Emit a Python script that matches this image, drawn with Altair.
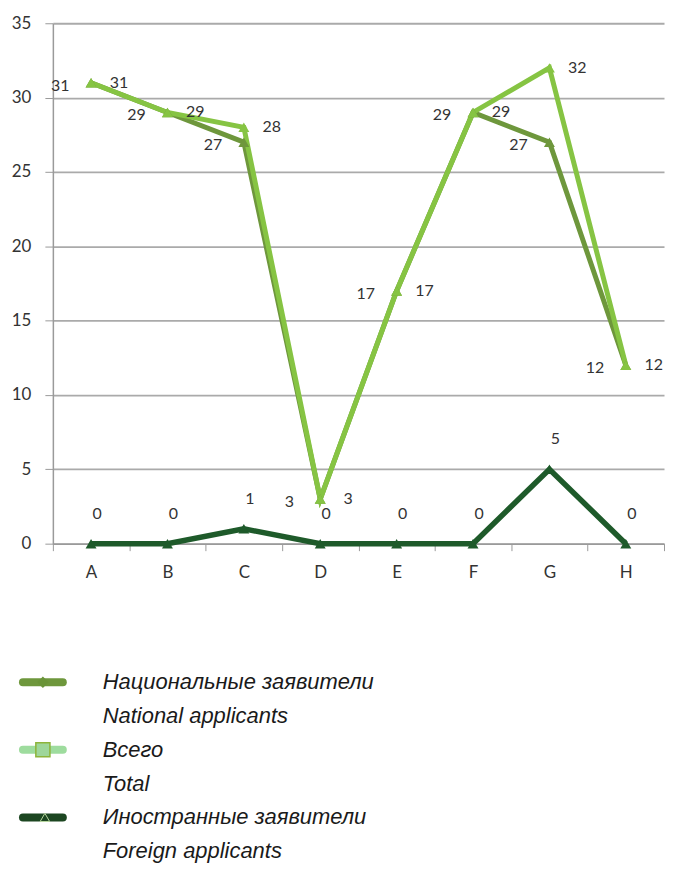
import altair as alt
import pandas as pd

categories = ["A", "B", "C", "D", "E", "F", "G", "H"]
national = [31, 29, 27, 3, 17, 29, 27, 12]
total = [31, 29, 28, 3, 17, 29, 32, 12]
foreign = [0, 0, 1, 0, 0, 0, 5, 0]

legend_lines = [
    "Национальные заявители",
    "National applicants",
    "Всего",
    "Total",
    "Иностранные заявители",
    "Foreign applicants",
]
legend_series = ["Национальные заявители", "Всего", "Иностранные заявители"]

rows = []
for c, n, t, f in zip(categories, national, total, foreign):
    rows.append({"cat": c, "series": "national", "value": n})
    rows.append({"cat": c, "series": "total", "value": t})
    rows.append({"cat": c, "series": "foreign", "value": f})
df = pd.DataFrame(rows)

FONT = "Lato"
C_NAT = "#6E973C"
C_TOT = "#86C443"
C_FOR = "#1E5A2A"

base = alt.Chart(df).encode(
    x=alt.X("cat:N", sort=categories, title=None,
            scale=alt.Scale(paddingInner=0, paddingOuter=0),
            axis=alt.Axis(labelAngle=0, tickBand="extent", tickSize=7,
                          tickColor="#9a9a9a", domainColor="#9a9a9a",
                          domainWidth=1.5, labelFont=FONT, labelFontSize=17,
                          labelColor="#333333", labelPadding=14, grid=False)),
    y=alt.Y("value:Q", title=None,
            scale=alt.Scale(domain=[0, 35], nice=False),
            axis=alt.Axis(values=[0, 5, 10, 15, 20, 25, 30, 35], tickSize=8,
                          tickColor="#9a9a9a", domainColor="#9a9a9a",
                          domainWidth=1.5, gridColor="#aaaaaa", gridWidth=1.8,
                          labelFont=FONT, labelFontSize=17, labelColor="#333333",
                          labelPadding=14)),
)

def series_layers(name, color, width):
    sub = base.transform_filter(alt.datum.series == name)
    line = sub.mark_line(color=color, strokeWidth=width, strokeJoin="miter")
    pts = sub.mark_point(shape="triangle-up", filled=True, size=120,
                         color=color, opacity=1)
    return line, pts

nat_line, nat_pts = series_layers("national", C_NAT, 5)
tot_line, tot_pts = series_layers("total", C_TOT, 5)
for_line, for_pts = series_layers("foreign", C_FOR, 5.5)

txt = dict(font=FONT, fontSize=16, color="#333333")
nat_text = base.transform_filter(alt.datum.series == "national").mark_text(
    dx=-31, dy=3, **txt).encode(text="value:Q")
tot_text = base.transform_filter(alt.datum.series == "total").mark_text(
    dx=28, dy=0, **txt).encode(text="value:Q")
for_text = base.transform_filter(alt.datum.series == "foreign").mark_text(
    dx=6, dy=-30, **txt).encode(text="value:Q")

main = alt.layer(
    nat_line, tot_line, nat_pts, tot_pts, for_line, for_pts,
    nat_text, tot_text, for_text
).properties(width=613, height=522)

# legend
leg_text_df = pd.DataFrame({"row": list(range(len(legend_lines))),
                            "label": legend_lines})
leg_sym_df = pd.DataFrame({"row": [0, 2, 4], "series": legend_series})

ly = alt.Y("row:Q", axis=None,
           scale=alt.Scale(domain=[-0.5, 5.28], reverse=True, nice=False, zero=False))

leg_text = alt.Chart(leg_text_df).mark_text(
    align="left", font="Liberation Sans", fontSize=22, fontStyle="italic",
    color="#1a1a1a"
).encode(y=ly, x=alt.value(50), text="label:N")

sym_colors = alt.Scale(domain=legend_series, range=[C_NAT, "#9EDC9E", "#1C4621"])
leg_rule = alt.Chart(leg_sym_df).mark_rule(strokeWidth=8, strokeCap="round").encode(
    y=ly, x=alt.value(-30), x2=alt.value(10),
    color=alt.Color("series:N", scale=sym_colors, legend=None))

leg_nat = alt.Chart(leg_sym_df).transform_filter(
    alt.datum.row == 0).mark_point(shape="diamond", filled=True, size=130,
                                   color="#6A9438", opacity=1).encode(
    y=ly, x=alt.value(-10))
leg_tot = alt.Chart(leg_sym_df).transform_filter(
    alt.datum.row == 2).mark_point(shape="square", filled=True, size=200,
                                   color="#9ED69A", stroke="#8DB43A",
                                   strokeWidth=1.5, opacity=1).encode(
    y=ly, x=alt.value(-10))
leg_for = alt.Chart(leg_sym_df).transform_filter(
    alt.datum.row == 4).mark_point(shape="triangle-up", filled=True, size=90,
                                   color="#1C4621", stroke="#b9d8a0",
                                   strokeWidth=1, opacity=1).encode(
    y=ly, x=alt.value(-8))

legend = alt.layer(leg_rule, leg_nat, leg_tot, leg_for, leg_text).properties(
    width=613, height=196)

chart = alt.vconcat(main, legend, spacing=85).properties(
    padding={"left": 3, "top": 5, "right": 0, "bottom": 0},
    background="#ffffff",
).configure_view(stroke=None)

chart.save("out.html", embed_options={"renderer": "svg", "actions": False})
